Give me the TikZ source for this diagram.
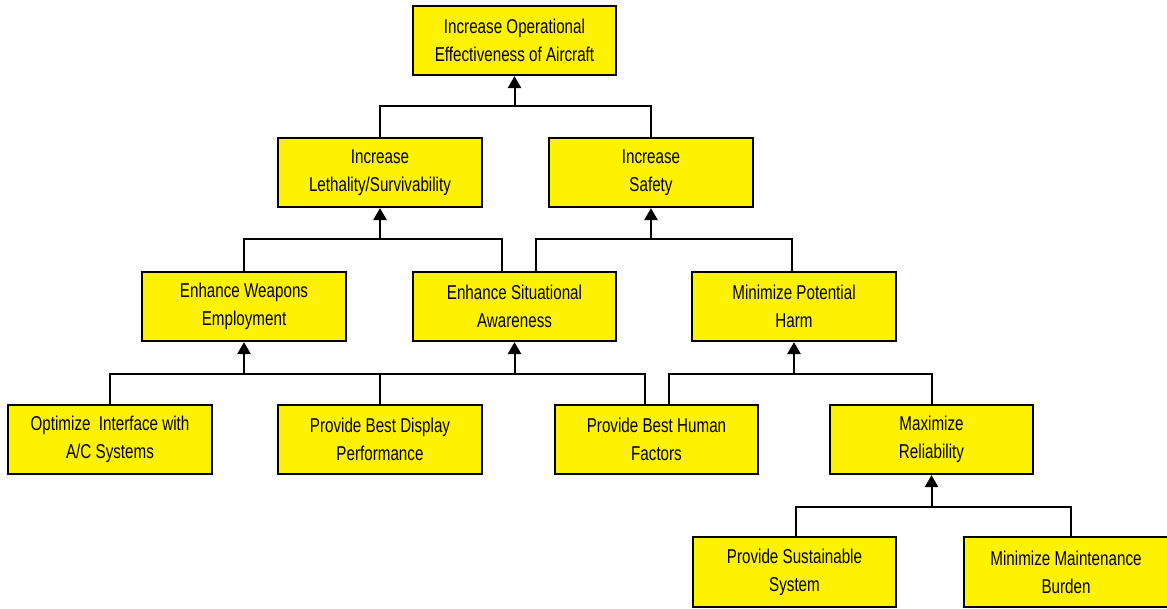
\documentclass[tikz,border=0pt]{standalone}
\usepackage{fontspec}
\setmainfont{Liberation Sans}[FakeStretch=0.76]
\usetikzlibrary{arrows.meta,calc}
\begin{document}
\begin{tikzpicture}[x=0.75pt,y=-0.75pt,
  goal/.style={draw=black, line width=1.5pt, fill=yellow,
    minimum width=152.5pt, minimum height=52pt, inner sep=0pt,
    align=center, font=\fontsize{15}{21}\selectfont},
  link/.style={line width=1.5pt, draw=black},
  up/.style={link, -{Triangle[width=10pt,length=9pt]}}]
\useasboundingbox (0,0) rectangle (1167,609);

% goal boxes
\node[goal] (top)    at (514.5,40.5)  {Increase Operational\\Effectiveness of Aircraft};
\node[goal] (leth)   at (380,172.5)   {Increase\\Lethality/Survivability};
\node[goal] (safe)   at (651,172.5)   {Increase\\Safety};
\node[goal] (weap)   at (244,306.5)   {Enhance Weapons\\Employment};
\node[goal] (sa)     at (514.5,306.5) {Enhance Situational\\Awareness};
\node[goal] (harm)   at (794,306.5)   {Minimize Potential\\Harm};
\node[goal] (opt)    at (110,439.5)   {Optimize\ \ Interface with\\A/C Systems};
\node[goal] (disp)   at (380,439.5)   {Provide Best Display\\Performance};
\node[goal] (hf)     at (656.5,439.5) {Provide Best Human\\Factors};
\node[goal] (rel)    at (931.5,439.5) {Maximize\\Reliability};
\node[goal] (sust)   at (794.5,572)   {Provide Sustainable\\System};
\node[goal] (maint)  at (1066,572)    {Minimize Maintenance\\Burden};

% heights of the horizontal bars
\coordinate (b0) at (0,106);
\coordinate (b1) at (0,239);
\coordinate (b2) at (0,374);
\coordinate (b3) at (0,507);

% off-centre attachment points
\coordinate (saL)  at ($(sa.north)+(-12.5,0)$);
\coordinate (saR)  at ($(sa.north)+(21,0)$);
\coordinate (harmT) at ($(harm.north)+(-2,0)$);
\coordinate (hfL)  at ($(hf.north)+(-11.5,0)$);
\coordinate (hfR)  at ($(hf.north)+(12.5,0)$);
\coordinate (sustT) at ($(sust.north)+(1.5,0)$);
\coordinate (maintT) at ($(maint.north)+(4.5,0)$);

% top level
\draw[link] (leth.north) -- (leth.north |- b0) -| (safe.north);
\draw[up] (top.south |- b0) -- (top.south);

% lethality / survivability
\draw[link] (weap.north) -- (weap.north |- b1) -| (saL);
\draw[up] (leth.south |- b1) -- (leth.south);

% safety
\draw[link] (saR) -- (saR |- b1) -| (harmT);
\draw[up] (safe.south |- b1) -- (safe.south);

% weapons employment
\draw[link] (opt.north) -- (opt.north |- b2) -| (disp.north);
\draw[up] (weap.south |- b2) -- (weap.south);

% situational awareness
\draw[link] (disp.north) -- (disp.north |- b2) -| (hfL);
\draw[up] (sa.south |- b2) -- (sa.south);

% potential harm
\draw[link] (hfR) -- (hfR |- b2) -| (rel.north);
\draw[up] (harm.south |- b2) -- (harm.south);

% reliability
\draw[link] (sustT) -- (sustT |- b3) -| (maintT);
\draw[up] (rel.south |- b3) -- (rel.south);
\end{tikzpicture}
\end{document}
